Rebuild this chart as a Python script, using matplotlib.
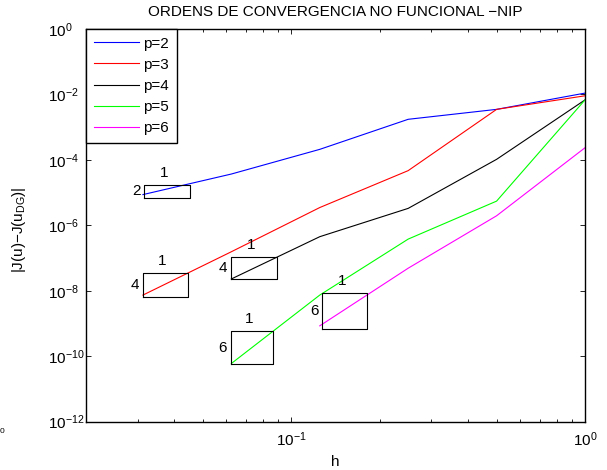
import numpy as np
import matplotlib
matplotlib.use('Agg')
import matplotlib.pyplot as plt
from matplotlib.ticker import FixedLocator, NullFormatter

plt.rcParams['font.family'] = ['Liberation Sans', 'DejaVu Sans']
plt.rcParams['mathtext.fontset'] = 'custom'
plt.rcParams['mathtext.rm'] = 'Liberation Sans'
plt.rcParams['mathtext.it'] = 'Liberation Sans'
plt.rcParams['mathtext.default'] = 'regular'

# mesh size h and functional error |J(u)-J(u_DG)| per polynomial degree
h = [1, 1/2, 1/4, 1/8, 1/16, 1/32]
err_p2 = [1.1e-2, 3.5e-3, 1.74e-3, 2.1e-4, 3.7e-5, 8.7e-6]
err_p3 = [9.1e-3, 3.5e-3, 4.7e-5, 3.5e-6, 1.56e-7, 7.4e-9]
err_p4 = [6.8e-3, 1.04e-4, 3.3e-6, 4.5e-7, 2.3e-8]
err_p5 = [6.8e-3, 5.5e-6, 3.8e-7, 7.4e-9, 6.0e-11]
err_p6 = [2.35e-4, 1.96e-6, 4.9e-8, 8.5e-10]

labels = ['p=2', 'p=3', 'p=4', 'p=5', 'p=6']
colors = ['#0000ff', '#ff0000', '#000000', '#00ff00', '#ff00ff']

# slope boxes: (h0, h1, e0, e1, order)
box_h0 = [0.03155, 0.03126, 0.0625, 0.0622, 0.1274]
box_h1 = [0.0452, 0.0445, 0.0891, 0.0866, 0.1814]
box_e0 = [6.9e-6, 6.6e-9, 2.24e-8, 5.6e-11, 6.8e-10]
box_e1 = [1.74e-5, 3.55e-8, 1.1e-7, 6.0e-10, 8.3e-9]
box_order = ['2', '4', '4', '6', '6']

fig = plt.figure(figsize=(6.07, 4.70), dpi=100)
ax = fig.add_axes([86/607, 1 - 421.7/470, (585-86)/607, (421.7-29)/470])

series = [err_p2, err_p3, err_p4, err_p5, err_p6]
for err, lab, col in zip(series, labels, colors):
    ax.loglog(h[:len(err)], err, color=col, linewidth=0.8, label=lab)

for x0, x1, y0, y1, o in zip(box_h0, box_h1, box_e0, box_e1, box_order):
    ax.plot([x0, x1, x1, x0, x0], [y0, y0, y1, y1, y0], color='k', linewidth=0.8)
    ym = np.sqrt(y0 * y1)
    xm = np.sqrt(x0 * x1)
    ax.annotate(o, (x0, ym), xytext=(-8, 0), textcoords='offset pixels',
                ha='center', va='center', fontsize=11)
    ax.annotate('1', (xm, y1), xytext=(-3, 12), textcoords='offset pixels',
                ha='center', va='center', fontsize=11)

ax.set_xlim(0.02, 1)
ax.set_ylim(1e-12, 1)

ax.xaxis.set_major_locator(FixedLocator([0.1, 1]))
ax.set_xticklabels(['$10^{-1}$', '$10^{0}$'])
ax.xaxis.set_minor_locator(FixedLocator([0.02, 0.03, 0.04, 0.05, 0.06, 0.07, 0.08, 0.09,
                                         0.2, 0.3, 0.4, 0.5, 0.6, 0.7, 0.8, 0.9]))
ax.xaxis.set_minor_formatter(NullFormatter())
yt = [10.0**k for k in range(-12, 1, 2)]
ax.yaxis.set_major_locator(FixedLocator(yt))
ax.set_yticklabels(['$10^{%d}$' % k for k in range(-12, 1, 2)])
ax.yaxis.set_minor_locator(FixedLocator([]))

ax.tick_params(which='both', direction='in', top=True, right=True, labelsize=11)
ax.tick_params(which='major', length=3.6, width=0.6)
ax.tick_params(which='minor', length=2.2, width=0.6)
ax.tick_params(axis='x', pad=6.5)
# MATLAB style: the "10" lines up, the exponent hangs to the right
ax.tick_params(axis='y', pad=27.6)
for t in ax.get_yticklabels():
    t.set_horizontalalignment('left')
for s in ax.spines.values():
    s.set_linewidth(1.0)

ax.set_title('ORDENS DE CONVERGENCIA NO FUNCIONAL −NIP', fontsize=11, pad=9)
ax.set_xlabel('h', fontsize=11, labelpad=4)
ax.set_ylabel('|J(u)−J(u$_{DG}$)|', fontsize=11, labelpad=4)
ax.yaxis.set_label_coords(-(86 - 28) / 499, 0.49)

leg = ax.legend(loc='upper left', borderaxespad=0, fontsize=11, fancybox=False,
                edgecolor='k', framealpha=1, handlelength=3.0, handletextpad=0.25,
                labelspacing=0.47, borderpad=0.5)
leg.get_frame().set_linewidth(1.0)
for line in leg.get_lines():
    line.set_linewidth(0.8)

fig.text(0.0, 1 - 431.7/470, '0', fontsize=6, ha='left', va='center')

plt.savefig('out.png', dpi=100)
